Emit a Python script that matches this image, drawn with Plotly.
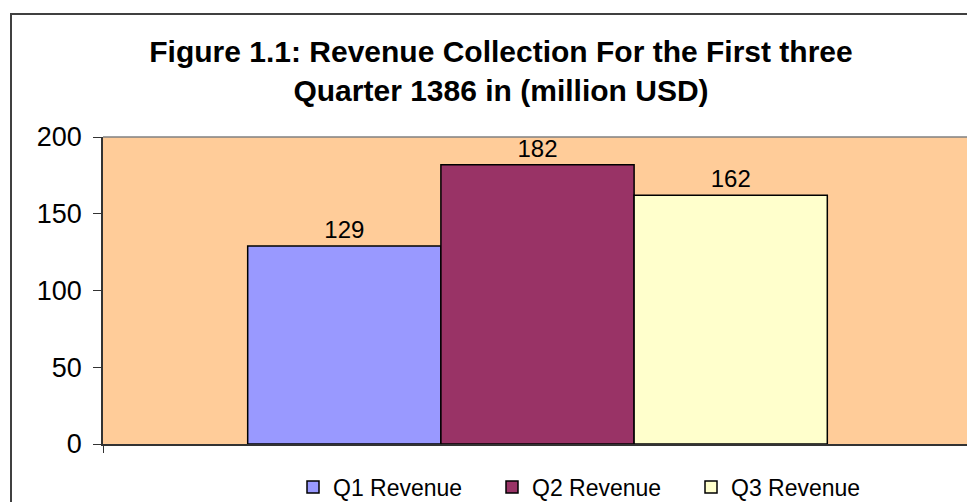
import plotly.graph_objects as go

category = [""]
series_names = ["Q1 Revenue", "Q2 Revenue", "Q3 Revenue"]
series_values = [[129], [182], [162]]
colors = ["#9999FF", "#993366", "#FFFFCC"]
y_ticks = [0, 50, 100, 150, 200]

# page body has an 8px margin, so the figure is laid out in page pixels minus 8
OFF = 8
W, H = 975 - OFF, 502 - OFF
L, T = 103 - OFF, 137 - OFF
R, B = 975 - 972, 502 - 444
pw, ph = W - L - R, H - T - B

fig = go.Figure()
for name, vals, col in zip(series_names, series_values, colors):
    fig.add_trace(go.Bar(
        x=category, y=vals, name=name,
        marker=dict(color=col, line=dict(color="black", width=1.5)),
        text=[str(v) for v in vals], textposition="outside",
        textfont=dict(family="Liberation Sans, Arial", size=24, color="black"),
        cliponaxis=False,
    ))

def px_x(p):
    return (p - OFF - L) / pw

def px_y(p):
    return (H - B - (p - OFF)) / ph

fig.update_layout(
    width=W, height=H,
    margin=dict(l=L, r=R, t=T, b=B, autoexpand=False),
    paper_bgcolor="white",
    plot_bgcolor="#FFCC99",
    barmode="group", bargap=0.333, bargroupgap=0,
    font=dict(family="Liberation Sans, Arial", color="black"),
    title=dict(
        text="<b>Figure 1.1: Revenue Collection For the First three<br>Quarter 1386 in (million USD)</b>",
        x=(501 - OFF) / W, xanchor="center", y=1 - (62 - OFF) / H, yanchor="middle",
        font=dict(family="Liberation Sans, Arial", size=30, color="black"),
    ),
    showlegend=True,
    legend=dict(
        orientation="h", x=px_x(293), xanchor="left", y=px_y(487), yanchor="middle",
        font=dict(family="Liberation Sans, Arial", size=23, color="black"),
        entrywidth=154, entrywidthmode="pixels",
        bgcolor="rgba(0,0,0,0)",
    ),
    xaxis=dict(
        showgrid=False, zeroline=False, showticklabels=False, automargin=False,
        showline=True, linecolor="#333333", linewidth=1.5,
        ticks="outside", tickson="boundaries", ticklen=7, tickcolor="#333333",
    ),
    yaxis=dict(
        range=[0, 200], tickvals=y_ticks, showgrid=False, zeroline=False, automargin=False,
        showline=True, linecolor="#333333", linewidth=1.5,
        ticks="outside", ticklen=8, tickcolor="#333333",
        tickfont=dict(family="Liberation Sans, Arial", size=27, color="black"),
        ticklabelstandoff=6,
    ),
    shapes=[
        dict(type="line", xref="paper", yref="paper", x0=0, x1=1, y0=1, y1=1,
             line=dict(color="#808080", width=1.5)),
        dict(type="line", xref="paper", yref="paper", x0=1, x1=1, y0=0, y1=1,
             line=dict(color="#808080", width=1.5)),
        dict(type="rect", xref="paper", yref="paper",
             x0=px_x(11), x1=px_x(990), y0=px_y(515), y1=px_y(14),
             line=dict(color="#404040", width=2), fillcolor="rgba(0,0,0,0)"),
    ],
)

fig.write_html("out.html")
